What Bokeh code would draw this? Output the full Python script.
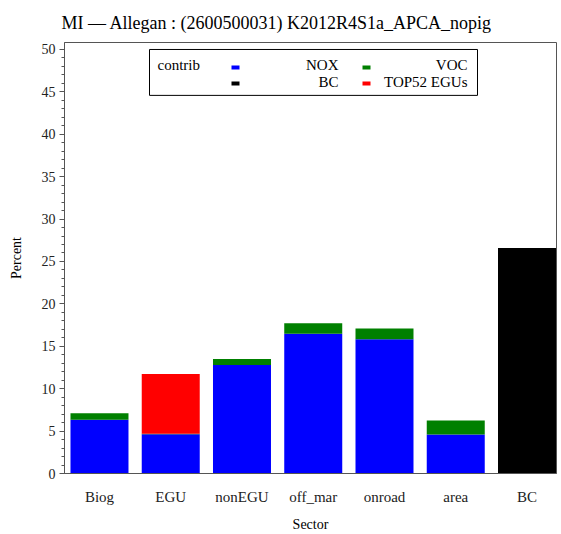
from bokeh.plotting import figure
from bokeh.models import ColumnDataSource, Range1d, FixedTicker, SingleIntervalTicker
from bokeh.core.properties import value
from bokeh.embed import file_html
from bokeh.resources import INLINE

# Source-apportionment contributions (percent) by sector
categories = ["Biog", "EGU", "nonEGU", "off_mar", "onroad", "area", "BC"]
nox = [6.35, 4.63, 12.78, 16.47, 15.84, 4.59, 0.0]
voc = [0.75, 0.05, 0.71, 1.26, 1.25, 1.65, 0.0]
bc = [0.0, 0.0, 0.0, 0.0, 0.0, 0.0, 26.6]
top52 = [0.0, 7.05, 0.0, 0.0, 0.0, 0.0, 0.0]

series = ["NOX", "VOC", "BC", "TOP52 EGUs"]
colors = ["#0000ff", "#008000", "#000000", "#ff0000"]

FONT = "Liberation Serif"

x_pos = list(range(len(categories)))
source = ColumnDataSource(dict(x=x_pos, NOX=nox, VOC=voc, BC=bc, **{"TOP52 EGUs": top52}))

X0, X1 = -0.491, 6.414
Y0, Y1 = 0.0, 50.82

p = figure(
    width=561, height=534,
    x_range=Range1d(X0, X1), y_range=Range1d(Y0, Y1),
    output_backend="svg", toolbar_location=None,
    min_border_left=64, min_border_right=5, min_border_top=42, min_border_bottom=58,
    title="MI \u2014 Allegan : (2600500031) K2012R4S1a_APCA_nopig",
)

p.vbar_stack(series, x="x", width=0.814, source=source, color=colors, line_width=0)

# axes
p.xgrid.visible = False
p.ygrid.visible = False
p.outline_line_color = "#555555"
p.outline_line_width = 1

p.xaxis.ticker = FixedTicker(ticks=x_pos)
p.xaxis.major_label_overrides = {i: c for i, c in enumerate(categories)}
p.xaxis.major_tick_line_color = None
p.xaxis.minor_tick_line_color = None
p.xaxis.major_label_standoff = 9
p.xaxis.axis_label = "Sector"
p.xaxis.axis_label_standoff = 9
p.xaxis.major_label_text_font_size = "15px"

p.yaxis.ticker = SingleIntervalTicker(interval=5, num_minor_ticks=5)
p.yaxis.major_tick_out = 5
p.yaxis.major_tick_in = 0
p.yaxis.minor_tick_out = 3
p.yaxis.minor_tick_in = 0
p.yaxis.major_label_standoff = 4
p.yaxis.axis_label = "Percent"
p.yaxis.axis_label_standoff = 15
p.yaxis.major_label_text_font_size = "14px"
p.yaxis.major_tick_line_color = "#555555"
p.yaxis.minor_tick_line_color = "#555555"

for ax in (p.xaxis[0], p.yaxis[0]):
    ax.axis_line_color = "#555555"
    ax.major_label_text_font = FONT
    ax.major_label_text_color = "#222222"
    ax.axis_label_text_font = FONT
    ax.axis_label_text_font_size = "14px"
    ax.axis_label_text_font_style = "normal"
    ax.axis_label_text_color = "#000000"

p.title.text_font = FONT
p.title.text_font_size = "18px"
p.title.text_font_style = "normal"
p.title.text_color = "#000000"
p.title.align = "left"
p.title.offset = -3
p.title.standoff = 20

# legend box drawn in data space
def px_x(px):
    return X0 + (px - 64) / 492 * (X1 - X0)

def px_y(py):
    return Y1 - (py - 42) / 432 * (Y1 - Y0)

p.quad(left=px_x(149), right=px_x(477), top=px_y(49), bottom=px_y(95),
       fill_color="white", line_color="black", line_width=1)
p.text(x=[px_x(157)], y=[px_y(65)], text=["contrib"], text_font=value(FONT),
       text_font_size="15px", text_baseline="middle", text_align="left")

mark_x = [px_x(235), px_x(366), px_x(235), px_x(366)]
mark_y = [px_y(67), px_y(67), px_y(83), px_y(83)]
p.rect(x=mark_x, y=mark_y, width=8, height=4, width_units="screen", height_units="screen",
       color=colors, line_width=0)
lab_x = [px_x(338), px_x(467), px_x(338), px_x(467)]
lab_y = [px_y(65), px_y(65), px_y(82), px_y(82)]
p.text(x=lab_x, y=lab_y, text=series, text_font=value(FONT), text_font_size="15px",
       text_baseline="middle", text_align="right")

open("out.html", "w").write(file_html(p, INLINE))
